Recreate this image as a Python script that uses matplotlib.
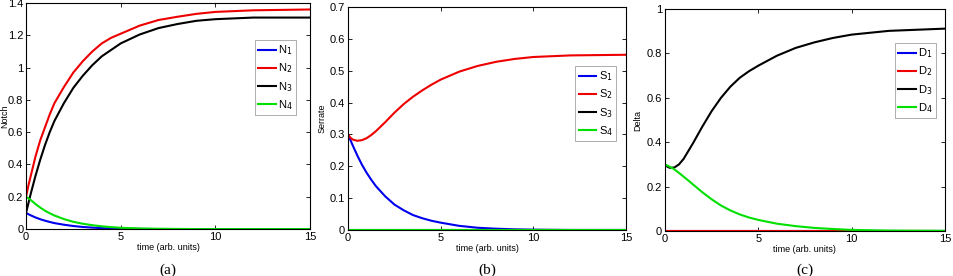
import matplotlib
matplotlib.use("Agg")
import matplotlib.pyplot as plt
from matplotlib.ticker import FuncFormatter

plt.rcParams["font.family"] = ["Liberation Sans", "DejaVu Sans"]

# time points (arb. units), shared by every curve
tiempo = [0, 0.125, 0.25, 0.5, 0.75, 1, 1.25, 1.5, 2, 2.5, 3, 3.5, 4, 4.5, 5, 6, 7, 8, 9, 10, 12, 15]
ceros = [0] * len(tiempo)

# (a) Notch
notch_1 = [0.10, 0.092, 0.085, 0.072, 0.061, 0.052, 0.044, 0.037, 0.027, 0.019, 0.013, 0.009,
           0.006, 0.004, 0.003, 0.001, 0, 0, 0, 0, 0, 0]
notch_2 = [0.20, 0.27, 0.33, 0.45, 0.55, 0.63, 0.71, 0.78, 0.88, 0.97, 1.04, 1.10,
           1.15, 1.185, 1.21, 1.26, 1.295, 1.315, 1.333, 1.345, 1.355, 1.36]
notch_3 = [0.10, 0.16, 0.22, 0.33, 0.43, 0.52, 0.60, 0.67, 0.78, 0.875, 0.95, 1.015,
           1.07, 1.11, 1.15, 1.205, 1.245, 1.27, 1.29, 1.30, 1.31, 1.31]
notch_4 = [0.20, 0.19, 0.18, 0.155, 0.133, 0.114, 0.098, 0.084, 0.062, 0.045, 0.033, 0.024,
           0.017, 0.012, 0.008, 0.004, 0.002, 0.001, 0, 0, 0, 0]

# (b) Serrate
serrate_1 = [0.30, 0.283, 0.266, 0.234, 0.205, 0.18, 0.158, 0.138, 0.106, 0.08, 0.062, 0.047,
             0.037, 0.029, 0.023, 0.013, 0.007, 0.004, 0.002, 0.001, 0, 0]
serrate_2 = [0.30, 0.29, 0.284, 0.28, 0.282, 0.288, 0.298, 0.31, 0.338, 0.368, 0.395, 0.418,
             0.438, 0.456, 0.472, 0.497, 0.515, 0.528, 0.537, 0.543, 0.548, 0.55]
serrate_3 = ceros
serrate_4 = ceros

# (c) Delta
delta_1 = ceros
delta_2 = ceros
delta_3 = [0.30, 0.29, 0.285, 0.286, 0.30, 0.325, 0.36, 0.395, 0.47, 0.54, 0.60, 0.65,
           0.69, 0.72, 0.745, 0.79, 0.825, 0.85, 0.87, 0.885, 0.902, 0.912]
delta_4 = [0.30, 0.295, 0.29, 0.278, 0.262, 0.245, 0.228, 0.21, 0.175, 0.143, 0.115, 0.093,
           0.075, 0.061, 0.05, 0.033, 0.022, 0.014, 0.009, 0.005, 0.002, 0.001]

COLORES = ["#0000ee", "#ee0000", "#000000", "#00e000"]

PANELES = [
    {
        "series": [notch_1, notch_2, notch_3, notch_4],
        "nombres": ["N$_1$", "N$_2$", "N$_3$", "N$_4$"],
        "ylabel": "Notch", "ylim": 1.4, "paso": 0.2,
        "pos": [0.0273, 0.170, 0.2977, 0.819],
        "leyenda": (0.951, 0.836), "ylab_x": -0.058, "titulo": "(a)",
    },
    {
        "series": [serrate_1, serrate_2, serrate_3, serrate_4],
        "nombres": ["S$_1$", "S$_2$", "S$_3$", "S$_4$"],
        "ylabel": "Serrate", "ylim": 0.7, "paso": 0.1,
        "pos": [0.3648, 0.1667, 0.2914, 0.808],
        "leyenda": (0.964, 0.735), "ylab_x": -0.079, "titulo": "(b)",
    },
    {
        "series": [delta_1, delta_2, delta_3, delta_4],
        "nombres": ["D$_1$", "D$_2$", "D$_3$", "D$_4$"],
        "ylabel": "Delta", "ylim": 1.0, "paso": 0.2,
        "pos": [0.697, 0.163, 0.2935, 0.804],
        "leyenda": (0.968, 0.847), "ylab_x": -0.082, "titulo": "(c)",
    },
]

fig = plt.figure(figsize=(9.54, 2.76), dpi=100)

for panel in PANELES:
    ax = fig.add_axes(panel["pos"])
    for valores, nombre, color in zip(panel["series"], panel["nombres"], COLORES):
        ax.plot(tiempo, valores, color=color, lw=1.5, label=nombre)

    ax.set_xlim(0, 15)
    ax.set_ylim(0, panel["ylim"])
    ax.set_xticks([0, 5, 10, 15])
    n = int(round(panel["ylim"] / panel["paso"]))
    ax.set_yticks([round(i * panel["paso"], 2) for i in range(n + 1)])
    ax.yaxis.set_major_formatter(FuncFormatter(lambda v, p: "%g" % v))
    ax.tick_params(direction="in", length=3, width=0.6, labelsize=8,
                   top=True, right=True, pad=2)
    for lado in ax.spines.values():
        lado.set_linewidth(0.8)

    ax.set_xlabel("time (arb. units)", fontsize=6.5, labelpad=1)
    ax.set_ylabel(panel["ylabel"], fontsize=6.5)
    ax.yaxis.set_label_coords(panel["ylab_x"], 0.5)

    ley = ax.legend(loc="upper right", bbox_to_anchor=panel["leyenda"],
                    fontsize=8, frameon=True, fancybox=False,
                    handlelength=1.6, handletextpad=0.2, labelspacing=0.4,
                    borderpad=0.3, borderaxespad=0)
    ley.get_frame().set_edgecolor("#888888")
    ley.get_frame().set_linewidth(0.6)

    x_centro = panel["pos"][0] + panel["pos"][2] / 2
    fig.text(x_centro, 0.047, panel["titulo"], ha="center", va="top",
             fontsize=11, family="Liberation Serif")

fig.savefig("out.png", dpi=100)
